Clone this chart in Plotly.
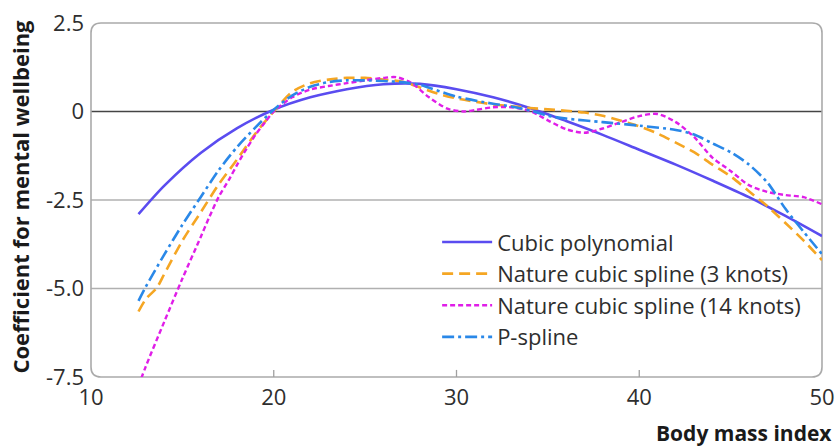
import plotly.graph_objects as go

# ---- data ----
cubic_x = [12.6, 14, 16, 18, 20, 22, 24, 26, 28, 30, 32, 34, 36, 38, 40, 42, 44, 46, 48, 50]
cubic_y = [-2.9, -2.1, -1.17, -0.47, 0.05, 0.4, 0.63, 0.77, 0.78, 0.63, 0.4, 0.1, -0.27, -0.66,
           -1.08, -1.5, -1.95, -2.42, -2.95, -3.52]

ncs3_x = [12.6, 13, 13.6, 14, 15, 16, 17, 18, 19, 20, 21, 22, 23, 24, 25, 26, 27, 28, 29, 30,
          31, 32, 33, 34, 35, 36, 37, 38, 39, 40, 41, 42, 43, 44, 45, 46, 47, 48, 49, 50]
ncs3_y = [-5.65, -5.3, -4.98, -4.6, -3.65, -2.85, -2.05, -1.35, -0.62, 0.0, 0.55, 0.8, 0.9, 0.95,
          0.95, 0.9, 0.85, 0.68, 0.5, 0.37, 0.28, 0.2, 0.15, 0.1, 0.06, 0.02, -0.03, -0.12, -0.26,
          -0.42, -0.62, -0.88, -1.15, -1.5, -1.83, -2.25, -2.67, -3.15, -3.65, -4.2]

ncs14_x = [12.6, 13, 14, 15, 16, 16.5, 17, 17.6, 18, 18.5, 19, 19.5, 20, 21, 22, 23, 24, 25, 26,
           26.7, 27.5, 28.5, 29.5, 30.4, 31, 32, 33, 34, 35, 36, 37, 38, 39, 40, 41, 42, 43, 44,
           45, 46, 47, 48, 49, 50]
ncs14_y = [-7.75, -7.2, -5.95, -4.72, -3.55, -2.95, -2.4, -1.88, -1.5, -1.06, -0.66, -0.32, 0.0,
           0.4, 0.62, 0.72, 0.8, 0.88, 0.95, 0.97, 0.82, 0.4, 0.08, 0.0, 0.04, 0.12, 0.12, 0.02,
           -0.25, -0.5, -0.6, -0.48, -0.3, -0.13, -0.07, -0.3, -0.72, -1.3, -1.68, -2.08, -2.27,
           -2.36, -2.42, -2.62]

psp_x = [12.6, 13, 14, 15, 16, 17, 18, 19, 20, 21, 22, 23, 24, 25, 26, 27, 28, 30, 32, 33, 34,
         35, 36, 38, 40, 42, 43, 44, 45, 46, 47, 48, 49, 50]
psp_y = [-5.35, -4.95, -4.05, -3.2, -2.42, -1.65, -1.0, -0.45, 0.05, 0.45, 0.7, 0.83, 0.88, 0.88,
         0.86, 0.83, 0.75, 0.42, 0.22, 0.14, 0.03, -0.12, -0.2, -0.3, -0.4, -0.52, -0.65, -0.9,
         -1.15, -1.5, -2.0, -2.75, -3.4, -4.03]

names = ["Cubic polynomial", "Nature cubic spline (3 knots)",
         "Nature cubic spline (14 knots)", "P-spline"]

y_ticks = [2.5, 0, -2.5, -5.0, -7.5]
y_tick_text = ["2.5", "0", "-2.5", "-5.0", "-7.5"]
x_ticks = [10, 20, 30, 40, 50]
grid_vals = [-2.5, -5.0]

FONT = "Open Sans"
TXT = "#2e2e2e"

fig = go.Figure()
fig.add_trace(go.Scatter(x=cubic_x, y=cubic_y, mode="lines", name=names[0],
                         line=dict(color="#5a4cf0", width=2.6, shape="spline", smoothing=0.8)))
fig.add_trace(go.Scatter(x=ncs3_x, y=ncs3_y, mode="lines", name=names[1],
                         line=dict(color="#f5a623", width=2.6, dash="11px,6px", shape="spline", smoothing=0.8)))
fig.add_trace(go.Scatter(x=ncs14_x, y=ncs14_y, mode="lines", name=names[2],
                         line=dict(color="#e01ee8", width=2.4, dash="5px,3px", shape="spline", smoothing=0.8)))
fig.add_trace(go.Scatter(x=psp_x, y=psp_y, mode="lines", name=names[3],
                         line=dict(color="#2a88e8", width=2.6, dash="12px,4px,3px,4px", shape="spline", smoothing=0.8)))

shapes = []
for g in grid_vals:
    shapes.append(dict(type="line", xref="paper", yref="y", x0=0, x1=1, y0=g, y1=g,
                       line=dict(color="#b0b0b0", width=1.5), layer="below"))
shapes.append(dict(type="line", xref="paper", yref="y", x0=0, x1=1, y0=0, y1=0,
                   line=dict(color="#444444", width=1.5), layer="below"))
for t in x_ticks[1:-1]:
    shapes.append(dict(type="line", xref="x", yref="paper", x0=t, x1=t, y0=0, y1=0.02,
                       line=dict(color="#a0a0a0", width=1.3)))
pw, ph = 731.0, 354.0
rx, ry = 10 / pw, 10 / ph
path = (f"M 0,{ry} L 0,{1-ry} Q 0,1 {rx},1 L {1-rx},1 Q 1,1 1,{1-ry} "
        f"L 1,{ry} Q 1,0 {1-rx},0 L {rx},0 Q 0,0 0,{ry} Z")
shapes.append(dict(type="path", xref="paper", yref="paper", path=path,
                   line=dict(color="#aaaaaa", width=1.6), layer="below"))

fig.update_layout(
    width=838, height=446,
    margin=dict(l=91, r=16, t=23, b=69, autoexpand=False),
    paper_bgcolor="white", plot_bgcolor="white",
    font=dict(family=FONT, size=22, color=TXT),
    showlegend=True,
    legend=dict(x=0.4735, y=0.44, xanchor="left", yanchor="top", bgcolor="rgba(0,0,0,0)",
                itemwidth=50, font=dict(size=22, family=FONT, color=TXT),
                tracegroupgap=0),
    shapes=shapes,
    xaxis=dict(range=[10, 50], tickvals=x_ticks, showgrid=False, zeroline=False, automargin=False,
               showline=False, ticks="", ticklabelstandoff=5, tickfont=dict(size=22, color=TXT)),
    yaxis=dict(range=[-7.5, 2.5], tickvals=y_ticks, ticktext=y_tick_text, showgrid=False,
               automargin=False, zeroline=False, showline=False, ticks="", ticklabelstandoff=6,
               tickfont=dict(size=22, color=TXT)),
    annotations=[
        dict(text="<b>Body mass index</b>", xref="paper", yref="paper", x=1.016, y=-0.158,
             xanchor="right", yanchor="middle", showarrow=False,
             font=dict(size=21, family=FONT, color="#1a1a1a")),
        dict(text="<b>Coefficient for mental wellbeing</b>", xref="paper", yref="paper",
             x=-0.097, y=0.51, xanchor="center", yanchor="middle", textangle=-90,
             showarrow=False, font=dict(size=22, family=FONT, color="#1a1a1a")),
    ],
)

fig.write_html("out.html", config={"displayModeBar": False},
               post_script="document.body.style.margin='0';document.body.style.padding='0';")
